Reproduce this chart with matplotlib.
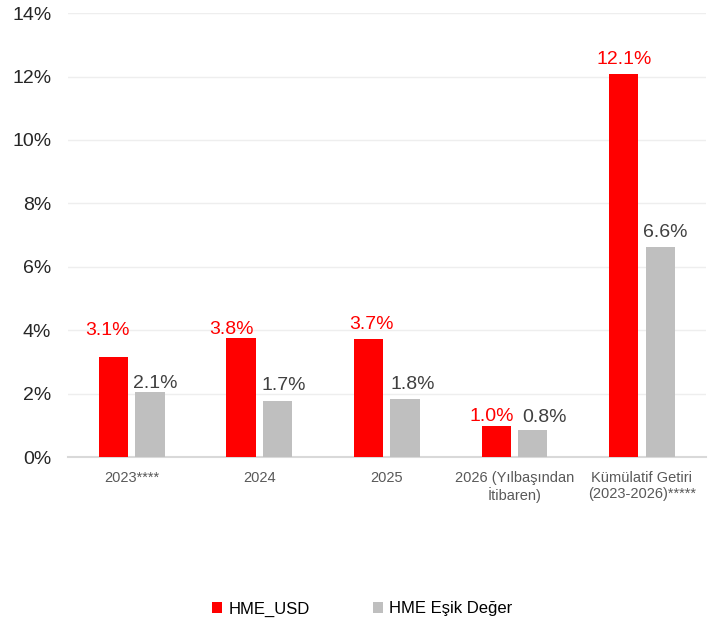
import matplotlib.pyplot as plt
import numpy as np

plt.rcParams['font.family'] = ['Liberation Sans', 'DejaVu Sans']

categories = ['2023****', '2024', '2025', '2026 (Yılbaşından\nİtibaren)', 'Kümülatif Getiri\n(2023-2026)*****']
hme_usd = [3.15, 3.75, 3.72, 0.98, 12.08]
hme_esik = [2.05, 1.77, 1.83, 0.85, 6.62]
usd_labels = ['3.1%', '3.8%', '3.7%', '1.0%', '12.1%']
esik_labels = ['2.1%', '1.7%', '1.8%', '0.8%', '6.6%']

RED = '#ff0000'
GRAY = '#bfbfbf'

# label nudges in pixels (dx, dy above bar top), like the hand-placed labels of the original
usd_nudge = [(-6, 22), (-10, 4), (3, 10), (-4, 5), (0, 10)]
esik_nudge = [(5, 4), (6, 11), (8, 10), (12, 8), (5, 10)]

fig = plt.figure(figsize=(7.1, 6.24), dpi=100)
ax = fig.add_axes([0.0958, 0.2676, 0.8982, 0.7114])

x = np.arange(len(categories))
w = 0.23
off = 0.143
b1 = ax.bar(x - off, hme_usd, w, color=RED, label='HME_USD', zorder=3)
b2 = ax.bar(x + off, hme_esik, w, color=GRAY, label='HME Eşik Değer', zorder=3)

for bars, labels, nudges, col in [(b1, usd_labels, usd_nudge, RED),
                                  (b2, esik_labels, esik_nudge, '#404040')]:
    for rect, lab, (dx, dy) in zip(bars, labels, nudges):
        ax.annotate(lab, (rect.get_x() + rect.get_width() / 2, rect.get_height()),
                    xytext=(dx, dy), textcoords='offset pixels',
                    ha='center', va='baseline', color=col, fontsize=14)

ax.set_xlim(-0.5, len(categories) - 0.5)
ax.set_ylim(0, 14)
ax.set_yticks(np.arange(0, 15, 2))
ax.set_yticklabels([f'{v}%' for v in range(0, 15, 2)], fontsize=14, color='#262626')
ax.set_xticks(x)
ax.set_xticklabels(categories, fontsize=10.5, color='#595959')
ax.tick_params(axis='both', length=0)
ax.tick_params(axis='x', pad=10)
ax.tick_params(axis='y', pad=12)
ax.grid(axis='y', color='#eeeeee', linewidth=1, zorder=0)
for s in ['top', 'right', 'left']:
    ax.spines[s].set_visible(False)
ax.spines['bottom'].set_color('#d9d9d9')
ax.spines['bottom'].set_linewidth(1.5)

fig.legend(loc='center', bbox_to_anchor=(0.51, 0.024), ncol=2, frameon=False,
           fontsize=12, handlelength=0.6, handleheight=0.6, columnspacing=3.8,
           handletextpad=0.4)

fig.savefig('out.png', dpi=100)
